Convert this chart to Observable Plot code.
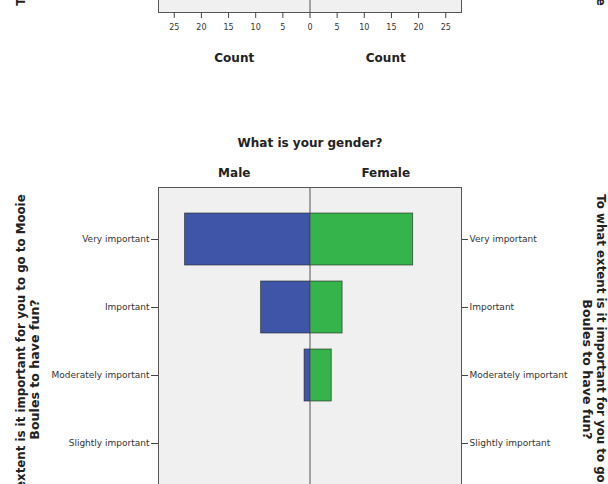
<!DOCTYPE html>
<html>
<head>
<meta charset="utf-8">
<script src="https://cdn.jsdelivr.net/npm/d3@7"></script>
<script src="https://cdn.jsdelivr.net/npm/@observablehq/plot@0.6"></script>
<style>
  html, body { margin: 0; padding: 0; background: #fff; overflow: hidden; width: 608px; height: 484px; }
  #wrap { position: relative; width: 608px; height: 484px; overflow: hidden; }
  #top { position: absolute; left: 0; top: -308px; }
  #bottom { position: absolute; left: 0; top: 0; }
</style>
</head>
<body>
<div id="wrap"><div id="top"></div><div id="bottom"></div></div>
<script>
// ---- data ----
const categories = ["Very important", "Important", "Moderately important", "Slightly important", "Not at all important"];
const maleCounts = [23, 9, 1, 0, 0];
const femaleCounts = [19, 6, 4, 0, 0];
const genders = ["Male", "Female"];
const genderColors = ["#3f56a8", "#34b44a"];
const countTicks = [-25, -20, -15, -10, -5, 0, 5, 10, 15, 20, 25];
const countDomain = [-27.9, 27.9];
const facetTitle = "What is your gender?";
const xTitle = "Count";
const yTitleLine1 = "To what extent is it important for you to go to Mooie";
const yTitleLine2 = "Boules to have fun?";
const topYTitleLine1 = "To what extent is it important for you to go to Mooie";
const topYTitleLine2 = "Boules to relax?";

const rows = [];
categories.forEach((c, i) => {
  if (maleCounts[i] > 0) rows.push({category: c, gender: "Male", count: -maleCounts[i]});
  if (femaleCounts[i] > 0) rows.push({category: c, gender: "Female", count: femaleCounts[i]});
});
const half = countDomain[1] / 2;
const genderX = g => (g === "Male" ? -half : half);

const font = "DejaVu Sans";
const common = {
  width: 608,
  marginLeft: 158,
  marginRight: 147,
  style: {fontFamily: font, background: "transparent", color: "#333"}
};
const titleStyle = {fontWeight: "bold", fill: "#222", textAnchor: "middle", lineAnchor: "middle"};

function sideTitles(line1, line2, dy) {
  return [
    Plot.text([line1], {...titleStyle, frameAnchor: "left", dx: -137, dy, rotate: -90, fontSize: 11.8}),
    Plot.text([line2], {...titleStyle, frameAnchor: "left", dx: -124, dy, rotate: -90, fontSize: 12.6}),
    Plot.text([line1], {...titleStyle, frameAnchor: "right", dx: 139, dy, rotate: 90, fontSize: 11.8}),
    Plot.text([line2], {...titleStyle, frameAnchor: "right", dx: 126, dy, rotate: 90, fontSize: 12.6})
  ];
}

// ---- upper chart (only its bottom edge is in view) ----
const topPlot = Plot.plot({
  ...common,
  height: 400,
  marginTop: 40,
  marginBottom: 80,
  x: {domain: countDomain},
  marks: [
    Plot.frame({fill: "#f0f0f0"}),
    Plot.ruleX([0], {stroke: "#555"}),
    Plot.frame({stroke: "#555"}),
    Plot.axisX({ticks: countTicks, tickFormat: Math.abs, tickSize: 6, tickPadding: 6, fontSize: 8, label: null, stroke: "#444"}),
    Plot.text(genders, {...titleStyle, x: genderX, text: () => xTitle, frameAnchor: "bottom", dy: 46, fontSize: 12}),
    ...sideTitles(topYTitleLine1, topYTitleLine2, -42)
  ]
});
document.getElementById("top").append(topPlot);

// ---- main chart ----
const plot = Plot.plot({
  ...common,
  height: 620,
  marginTop: 187,
  marginBottom: 57,
  x: {domain: countDomain},
  y: {domain: categories, type: "band", paddingInner: 0.235, paddingOuter: 0.36},
  color: {domain: genders, range: genderColors},
  marks: [
    Plot.frame({fill: "#f0f0f0"}),
    Plot.barX(rows, {x: "count", y: "category", fill: "gender", stroke: "#222", strokeWidth: 0.8, strokeOpacity: 0.75}),
    Plot.ruleX([0], {stroke: "#555"}),
    Plot.frame({stroke: "#555"}),
    Plot.axisY({anchor: "left", tickSize: 7, tickPadding: 2, fontSize: 9, label: null, stroke: "#444"}),
    Plot.axisY({anchor: "right", tickSize: 6, tickPadding: 2, fontSize: 9, label: null, stroke: "#444"}),
    Plot.axisX({ticks: countTicks, tickFormat: Math.abs, tickSize: 6, tickPadding: 6, fontSize: 8, label: null, stroke: "#444"}),
    Plot.text(genders, {...titleStyle, x: genderX, text: () => xTitle, frameAnchor: "bottom", dy: 46, fontSize: 12}),
    Plot.text([facetTitle], {...titleStyle, frameAnchor: "top", dy: -44, fontSize: 12}),
    Plot.text(genders, {...titleStyle, x: genderX, text: d => d, frameAnchor: "top", dy: -14, fontSize: 12}),
    ...sideTitles(yTitleLine1, yTitleLine2, -6)
  ]
});
document.getElementById("bottom").append(plot);
</script>
</body>
</html>
